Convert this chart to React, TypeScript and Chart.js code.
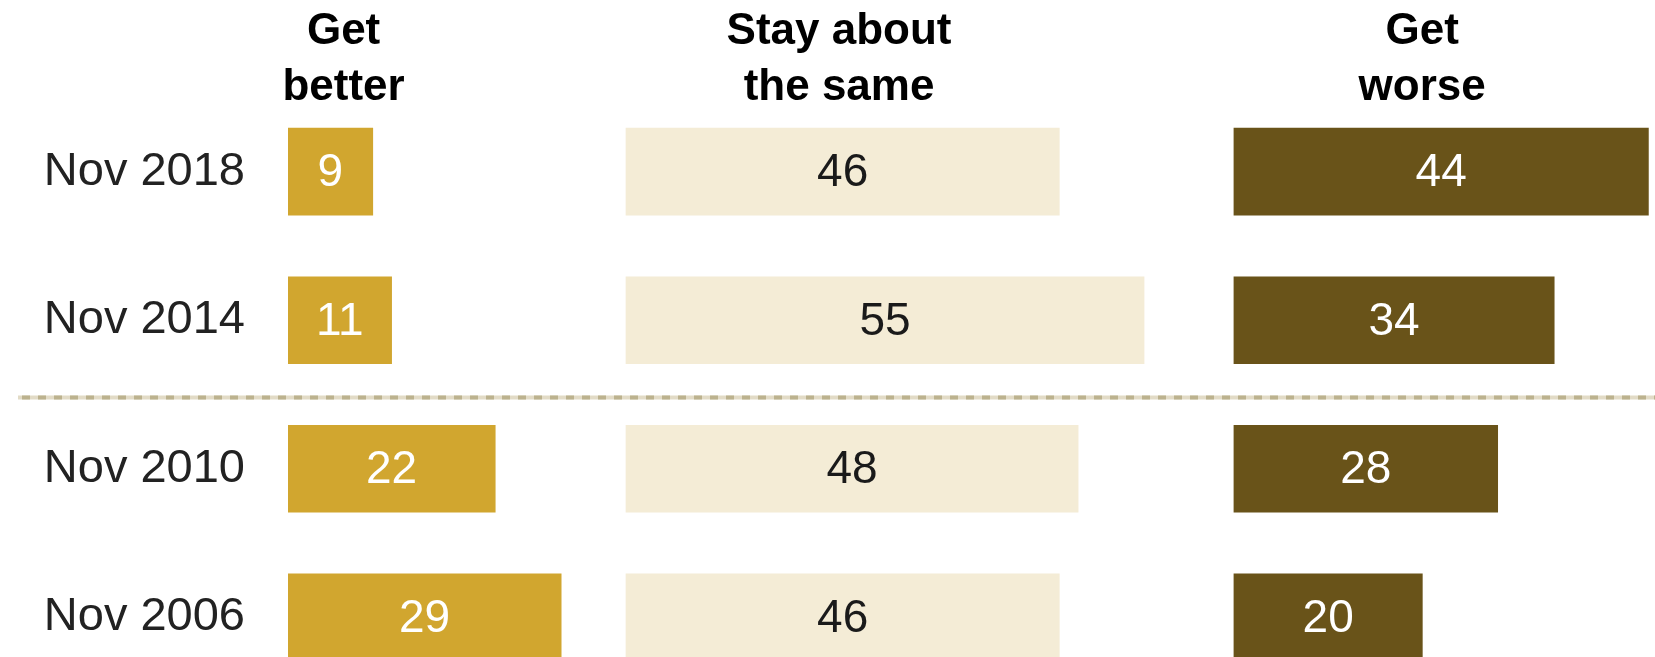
import React, { useEffect, useRef } from "react";
import { Chart, registerables } from "chart.js";

Chart.register(...registerables);

// ---- data ----
const categories = ["Nov 2018", "Nov 2014", "Nov 2010", "Nov 2006"];
const getBetter = [9, 11, 22, 29];
const stayAboutSame = [46, 55, 48, 46];
const getWorse = [44, 34, 28, 20];
const seriesNames = ["Get better", "Stay about the same", "Get worse"];
const headerLines = [
  ["Get", "better"],
  ["Stay about", "the same"],
  ["Get", "worse"],
];

// ---- layout / style (not data) ----
const COLUMN_STARTS = [0, 35.88, 100.42];
const HEADER_CENTERS = [5.9, 58.5, 120.4];
const X_MAX = 145.12;
const COLORS = ["#d1a62f", "#f4ecd6", "#695319"];
const LABEL_COLORS = ["#ffffff", "#1a1a1a", "#ffffff"];
const FONT = "'Liberation Sans', Arial, sans-serif";

const valueLabels = {
  id: "valueLabels",
  afterDatasetsDraw(chart: any) {
    const ctx = chart.ctx;
    ctx.save();
    ctx.font = `46px ${FONT}`;
    ctx.textAlign = "center";
    ctx.textBaseline = "middle";
    chart.data.datasets.forEach((ds: any, di: number) => {
      const meta = chart.getDatasetMeta(di);
      meta.data.forEach((el: any, i: number) => {
        const v = ds.values[i];
        const cx = (el.x + el.base) / 2;
        ctx.fillStyle = LABEL_COLORS[di];
        ctx.fillText(String(v), cx, el.y + 2);
      });
    });
    ctx.restore();
  },
};

const headersAndRule = {
  id: "headersAndRule",
  beforeDatasetsDraw(chart: any) {
    const ctx = chart.ctx;
    const y = chart.scales.y;
    const sepY = (y.getPixelForValue(1) + y.getPixelForValue(2)) / 2 + 3;
    ctx.save();
    ctx.lineWidth = 4;
    ctx.strokeStyle = "#e2dbc6";
    ctx.beginPath();
    ctx.moveTo(18, sepY);
    ctx.lineTo(chart.width, sepY);
    ctx.stroke();
    ctx.setLineDash([8, 8]);
    ctx.lineDashOffset = 12;
    ctx.strokeStyle = "#bcb28e";
    ctx.beginPath();
    ctx.moveTo(18, sepY);
    ctx.lineTo(chart.width, sepY);
    ctx.stroke();
    ctx.restore();
  },
  afterDraw(chart: any) {
    const ctx = chart.ctx;
    const x = chart.scales.x;
    const top = chart.chartArea.top;
    ctx.save();
    ctx.font = `bold 44px ${FONT}`;
    ctx.fillStyle = "#000000";
    ctx.textAlign = "center";
    ctx.textBaseline = "alphabetic";
    headerLines.forEach((lines, i) => {
      const cx = x.getPixelForValue(HEADER_CENTERS[i]);
      lines.forEach((line, li) => {
        ctx.fillText(line, cx, top - 53.4 + li * 56);
      });
    });
    ctx.restore();
  },
};

export default function App() {
  const ref = useRef<HTMLCanvasElement>(null);
  useEffect(() => {
    document.body.style.margin = "0";
    document.body.style.overflow = "hidden";
    const series = [getBetter, stayAboutSame, getWorse];
    const chart = new Chart(ref.current as HTMLCanvasElement, {
      type: "bar",
      data: {
        labels: categories,
        datasets: series.map((vals, i) => ({
          label: seriesNames[i],
          values: vals,
          data: vals.map((v) => [COLUMN_STARTS[i], COLUMN_STARTS[i] + v]),
          backgroundColor: COLORS[i],
          borderWidth: 0,
          barThickness: 87,
          grouped: false,
        })) as any,
      },
      options: {
        indexAxis: "y",
        animation: false,
        responsive: false,
        maintainAspectRatio: false,
        layout: { padding: { top: 97.4, bottom: 8.4, left: 0, right: 0 } },
        plugins: {
          legend: { display: false },
          tooltip: { enabled: false },
        },
        scales: {
          x: {
            type: "linear",
            min: 0,
            max: X_MAX,
            display: false,
          },
          y: {
            type: "category",
            offset: true,
            grid: { display: false, drawTicks: false },
            border: { display: false },
            ticks: {
              color: "#222222",
              font: { size: 47, family: FONT },
              padding: 43,
            },
            afterFit(scale: any) {
              scale.width = 288;
              scale.paddingTop = 0;
              scale.paddingBottom = 0;
            },
          },
        },
      } as any,
      plugins: [headersAndRule, valueLabels],
    });
    return () => chart.destroy();
  }, []);
  return (
    <div style={{ width: 1655, height: 657, overflow: "hidden" }}>
      <div style={{ width: 1655, height: 700 }}>
        <canvas
          ref={ref}
          width={1655}
          height={700}
          style={{ display: "block", width: 1655, height: 700 }}
        />
      </div>
    </div>
  );
}
